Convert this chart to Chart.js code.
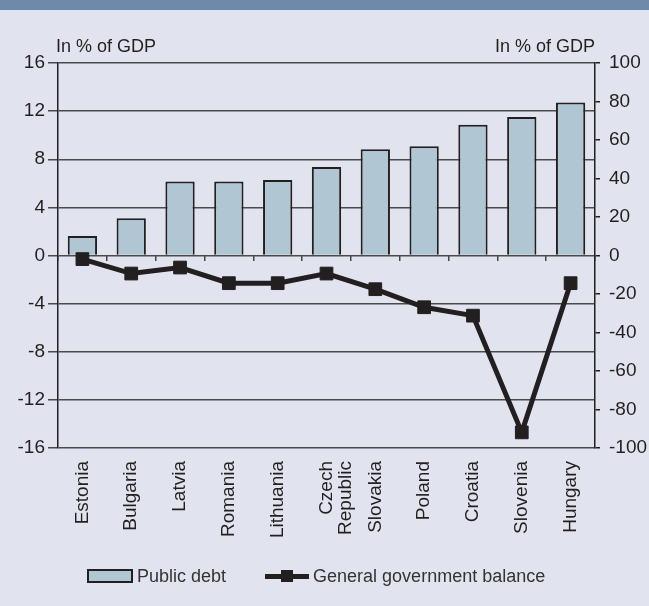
<!DOCTYPE html>
<html>
<head>
<meta charset="utf-8">
<script src="https://cdn.jsdelivr.net/npm/chart.js@4/dist/chart.umd.min.js"></script>
<style>
  html, body { margin: 0; padding: 0; background: #e1e4ee; }
  body { position: relative; width: 649px; height: 606px; overflow: hidden; }
  #band { height: 10px; background: #6e89aa; }
  #wrap { position: relative; width: 649px; height: 596px; }
  #legend { position: absolute; left: 87px; top: 566px; height: 20px; display: flex; align-items: center;
            font: 18px 'Liberation Sans', Arial, sans-serif; color: #333; white-space: nowrap; }
  #legend .item { display: flex; align-items: center; }
  #legend .item + .item { margin-left: 39px; }
  #legend .txt { margin-left: 4px; }
  .icon-bar { width: 46px; height: 14px; box-sizing: border-box; }
  .icon-line { width: 44px; height: 14px; position: relative; }
  .icon-line .ln { position: absolute; left: 0; right: 0; top: 5px; height: 4.5px; }
  .icon-line .pt { position: absolute; left: 16px; top: 1px; width: 12px; height: 12px; }
</style>
</head>
<body>
<div id="band"></div>
<div id="wrap"><canvas id="c"></canvas></div>
<div id="legend"></div>
<script>
// ---- data ----
const categories = ['Estonia', 'Bulgaria', 'Latvia', 'Romania', 'Lithuania', ['Czech', 'Republic'],
                    'Slovakia', 'Poland', 'Croatia', 'Slovenia', 'Hungary'];
const publicDebt = [10.1, 19.3, 38.5, 38.5, 39.2, 46.0, 55.2, 56.8, 67.9, 71.9, 79.5];   // right axis
const govBalance = [-0.3, -1.5, -1.0, -2.3, -2.3, -1.5, -2.8, -4.3, -5.0, -14.7, -2.3];  // left axis
const seriesNames = ['Public debt', 'General government balance'];
const axisTitles = ['In % of GDP', 'In % of GDP'];
const leftAxis = [-16, 16, 4];     // min, max, step
const rightAxis = [-100, 100, 20]; // min, max, step

const INK = '#231f20';
const BAR_FILL = '#b0c6d2';
Chart.defaults.font.family = "'Liberation Sans', Arial, Helvetica, sans-serif";

const unitLabels = {
  id: 'unitLabels',
  afterDraw(chart) {
    const { ctx, chartArea: a } = chart;
    ctx.save();
    ctx.font = "18px 'Liberation Sans', Arial, sans-serif";
    ctx.fillStyle = INK;
    ctx.textBaseline = 'alphabetic';
    ctx.textAlign = 'left';
    ctx.fillText(axisTitles[0], a.left - 2, a.top - 11);
    ctx.textAlign = 'right';
    ctx.fillText(axisTitles[1], a.right, a.top - 11);
    ctx.restore();
  }
};

const chart = new Chart(document.getElementById('c'), {
  type: 'bar',
  data: {
    labels: categories,
    datasets: [
      {
        type: 'line', label: seriesNames[1], data: govBalance,
        xAxisID: 'x', yAxisID: 'y', order: 1,
        borderColor: INK, backgroundColor: INK, borderWidth: 5, tension: 0,
        pointStyle: 'rect', pointRadius: 9, pointHoverRadius: 9,
        pointBackgroundColor: INK, pointBorderColor: INK, pointBorderWidth: 1
      },
      {
        type: 'bar', label: seriesNames[0], data: publicDebt,
        xAxisID: 'x', yAxisID: 'y2', order: 2,
        backgroundColor: BAR_FILL, borderColor: INK, borderWidth: 2,
        barPercentage: 0.6, categoryPercentage: 1
      }
    ]
  },
  options: {
    responsive: true,
    maintainAspectRatio: false,
    animation: false,
    layout: { padding: { top: 53, left: 0, right: 0, bottom: 66 } },
    plugins: {
      tooltip: { enabled: false },
      legend: { display: false }
    },
    scales: {
      x: {
        type: 'category', position: 'bottom', offset: true,
        grid: { display: false, drawTicks: false },
        border: { display: false },
        ticks: { autoSkip: false, maxRotation: 90, minRotation: 90, padding: 13,
                 color: INK, font: { size: 19, lineHeight: 1 } },
        afterFit(s) { s.height = 92; }
      },
      x0: {
        type: 'category', position: { y: 0 }, offset: true,
        grid: { offset: true, drawOnChartArea: false, drawTicks: true, tickLength: 5, color: '#444', lineWidth: 1.5 },
        border: { display: false },
        ticks: { display: false }
      },
      y: {
        position: 'left', min: leftAxis[0], max: leftAxis[1],
        ticks: { stepSize: leftAxis[2], padding: 3, color: INK, font: { size: 19 } },
        grid: { color: '#4a4a4a', lineWidth: 1.5, tickLength: 10 },
        border: { color: INK, width: 1.5 },
        afterFit(s) { s.width = 58; }
      },
      y2: {
        position: 'right', min: rightAxis[0], max: rightAxis[1],
        ticks: { stepSize: rightAxis[2], padding: 9, color: INK, font: { size: 19 } },
        grid: { drawOnChartArea: false, tickLength: 5, color: INK, lineWidth: 1.5 },
        border: { color: INK, width: 1.5 },
        afterFit(s) { s.width = 54; }
      }
    }
  },
  plugins: [unitLabels]
});

// HTML legend built from the chart's datasets (bar first, then line)
(function buildLegend() {
  const legend = document.getElementById('legend');
  const bar = chart.data.datasets[1];
  const line = chart.data.datasets[0];
  const items = [
    { text: bar.label, html: '<div class="icon-bar" style="background:' + bar.backgroundColor + ';border:2px solid ' + bar.borderColor + '"></div>' },
    { text: line.label, html: '<div class="icon-line"><div class="ln" style="background:' + line.borderColor + '"></div><div class="pt" style="background:' + line.pointBackgroundColor + '"></div></div>' }
  ];
  items.forEach(it => {
    const el = document.createElement('div');
    el.className = 'item';
    el.innerHTML = it.html + '<span class="txt"></span>';
    el.querySelector('.txt').textContent = it.text;
    legend.appendChild(el);
  });
})();
</script>
</body>
</html>
